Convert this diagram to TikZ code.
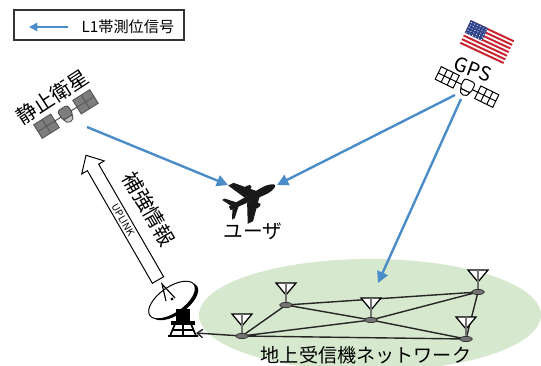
\documentclass[tikz,border=0pt]{standalone}
\usepackage{fontspec}
\setmainfont{Noto Sans CJK JP}
\usetikzlibrary{arrows.meta,positioning,calc,shapes.geometric}

\definecolor{sigblue}{RGB}{74,140,200}
\definecolor{netgreen}{RGB}{214,232,205}
\definecolor{panelgray}{RGB}{125,125,125}
\definecolor{flagred}{RGB}{200,38,50}
\definecolor{flagblue}{RGB}{48,68,140}

\tikzset{
  signal/.style={sigblue, line width=1.7pt, -{Triangle[length=8pt,width=8pt]}},
  mesh/.style={black!85, line width=1pt},
  rxbase/.style={ellipse, draw=black!80, fill=black!55, line width=0.5pt,
    minimum width=3.2mm, minimum height=1.3mm, inner sep=0pt},
  biglabel/.style={font=\fontsize{14.5pt}{14.5pt}\selectfont},
  netlabel/.style={font=\fontsize{13.6pt}{13.6pt}\selectfont}
}

\begin{document}
\begin{tikzpicture}[x=0.25mm,y=-0.25mm]
\useasboundingbox (0,0) rectangle (541,365);
\clip (0,0) rectangle (541,365);

% legend
\draw[black!80, line width=0.8pt] (14,10) rectangle (184,40);
\coordinate (key-a) at (68,27);
\coordinate (key-b) at (29,27);
\draw[sigblue, line width=1.3pt, -{Triangle[length=6pt,width=6pt]}] (key-a) -- (key-b);
\node[font=\fontsize{10.8pt}{10.8pt}\selectfont] (key) at (128,26.5) {L1帯測位信号};

% ground network area
\fill[netgreen] (370,315) ellipse [x radius=171, y radius=56];

% geostationary satellite
\begin{scope}[shift={(66,114)}, rotate=32]
  \draw[black!70, line width=0.7pt] (-14,0) -- (14,0);
  \foreach \s in {-1,1} {
    \fill[panelgray] (\s*23-10,-8) rectangle (\s*23+10,8);
    \draw[black!65, line width=0.7pt] (\s*23-10,-8) rectangle (\s*23+10,8)
      (\s*23,-8) -- (\s*23,8) (\s*23-10,0) -- (\s*23+10,0);
  }
  \draw[fill=panelgray, draw=black!70, line width=0.6pt, rounded corners=2pt] (-6,-7) rectangle (6,4);
  \draw[fill=black!25, draw=black!70, line width=0.6pt] (5,4) arc[start angle=0, end angle=180, radius=5] -- cycle;
\end{scope}
\node[biglabel, rotate=33] (geo-label) at (52,97) {静止衛星};

% GPS flag
\begin{scope}[shift={(487,42)}, rotate=-25]
  \fill[white] (-24,-13) rectangle (24,13);
  \foreach \i in {0,2,...,12}
    \fill[flagred] (-24,-13+\i*2) rectangle (24,-11+\i*2);
  \fill[flagblue] (-24,-13) rectangle (-5,1);
  \foreach \i in {0,...,5}
    \foreach \j in {0,...,4}
      \fill[white] (-22.2+\i*3.2,-11+\j*2.8) circle (0.6);
\end{scope}
\node[font=\fontsize{14pt}{14pt}\selectfont, rotate=-20] (gps-label) at (473,69) {GPS};

% GPS satellite
\begin{scope}[shift={(467,87)}, rotate=-26]
  \draw[draw=black, line width=0.7pt] (-12,0) -- (12,0);
  \foreach \s in {-1,1} {
    \draw[draw=black, fill=white, line width=0.7pt] (\s*22-10,-7) rectangle (\s*22+10,7)
      (\s*22-3.33,-7) -- (\s*22-3.33,7) (\s*22+3.33,-7) -- (\s*22+3.33,7)
      (\s*22-10,0) -- (\s*22+10,0);
  }
  \draw[draw=black, fill=white, line width=0.7pt, rounded corners=2pt] (-6,-7) rectangle (6,4);
  \draw[draw=black, fill=white, line width=0.7pt] (5,4) arc[start angle=0, end angle=180, radius=5] -- cycle;
\end{scope}

% user aircraft
\begin{scope}[shift={(252,197)}, rotate=27, fill=black!90]
  \fill (-25,-2) -- (14,-4) .. controls (22,-4) and (26,-1.5) .. (26,0)
    .. controls (26,1.5) and (22,4) .. (14,4) -- (-25,2) -- cycle;
  \fill (7,-3) -- (-10,-21) -- (-16,-21) -- (-7,-3) -- cycle;
  \fill (7,3) -- (-10,22) -- (-16,22) -- (-7,3) -- cycle;
  \fill (-16,-2) -- (-25,-11) -- (-28,-11) -- (-23,-2) -- cycle;
  \fill (-16,2) -- (-25,11) -- (-28,11) -- (-23,2) -- cycle;
  \fill (0,-10) ellipse [x radius=4.5, y radius=2.4];
  \fill (0,10) ellipse [x radius=4.5, y radius=2.4];
\end{scope}
\node[font=\fontsize{14pt}{14pt}\selectfont] (user) at (253,231) {ユーザ};

% ground station dish
\begin{scope}[shift={(172,300)}]
  \fill[black, rotate=35] (1.5,2.8) ellipse [x radius=27, y radius=13];
  \draw[fill=white, line width=0.7pt, rotate=35] (0,0) ellipse [x radius=27, y radius=13];
  \draw[line width=0.8pt] (-6,1) -- (-10,-16) -- (3,-2);
  \fill (0,-1) circle (1.6);
\end{scope}
\fill (176,309) rectangle (190,321);
\fill (171,321) rectangle (195,324.5);
\draw[line width=1.2pt] (170,336) -- (175,324) (191,324) -- (196,336)
  (168,336) -- (198,336) (173,330) -- (193,330) (183,324) -- (183,336);
\coordinate (dish) at (196,333);

% uplink arrow
\begin{scope}[shift={(158,280)}, rotate=120]
  \draw[fill=white, line width=0.7pt] (0,-6.5) -- (130,-6.5) -- (130,-13) -- (144,0)
    -- (130,13) -- (130,6.5) -- (0,6.5) -- cycle;
\end{scope}
\node[font=\fontsize{7pt}{7pt}\selectfont, rotate=-60] (uplink) at (123,220) {UPLINK};
\node[biglabel, rotate=-60] (aug) at (149,209) {補強情報};

% receiver network
\coordinate (n1) at (242,336);
\coordinate (n2) at (286,305);
\coordinate (n3) at (371,320);
\coordinate (n4) at (478,292);
\coordinate (n5) at (466,339);
\draw[mesh] (n1) -- (n2) (n1) -- (n3) (n1) -- (n5) (n2) -- (n3) (n2) -- (n4)
  (n3) -- (n4) (n3) -- (n5) (n4) -- (n5);
\draw[mesh, -{Straight Barb[length=4pt,width=6pt]}] (n1) -- (dish);
\foreach \n in {n1,n2,n3,n4,n5} {
  \begin{scope}[shift={(\n)}]
    \draw[fill=white, line width=0.9pt] (-10,-22) -- (10,-22) -- (0,-10) -- cycle;
    \draw[black!55, line width=0.9pt] (0,-22) -- (0,0);
  \end{scope}
  \node[rxbase] at (\n) {};
}
\node[netlabel] (net) at (366,355) {地上受信機ネットワーク};

% L1 signals
\coordinate (geo) at (87,127);
\coordinate (gps-a) at (455,95);
\coordinate (gps-b) at (461,99);
\coordinate (user-l) at (228,185);
\coordinate (user-r) at (277,185);
\coordinate (net-in) at (378,283);
\draw[signal] (geo) -- (user-l);
\draw[signal] (gps-a) -- (user-r);
\draw[signal] (gps-b) -- (net-in);
\end{tikzpicture}
\end{document}
